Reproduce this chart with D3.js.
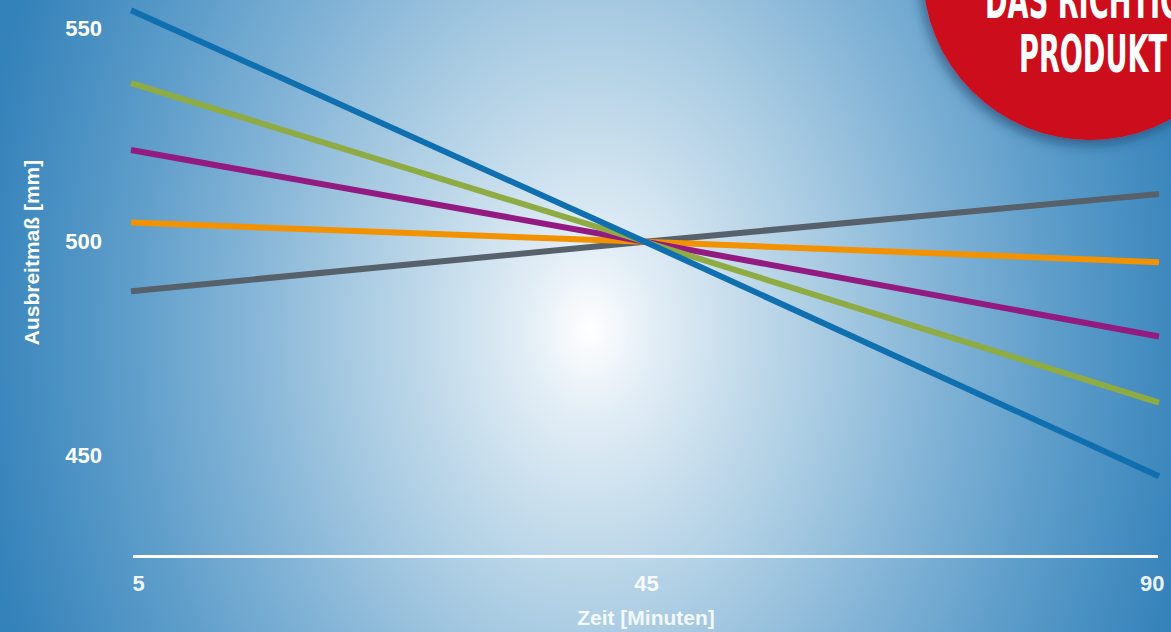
<!DOCTYPE html>
<html>
<head>
<meta charset="utf-8">
<script src="https://cdn.jsdelivr.net/npm/d3@7"></script>
<style>
  body { margin: 0; overflow: hidden; }
  svg { display: block; }
</style>
</head>
<body>
<svg id="chart"></svg>
<script>
const times = ['5', '45', '90'];
const blueValues = [554.3, 500, 445];
const greenValues = [537.2, 500, 462.3];
const purpleValues = [521.5, 500, 477.8];
const orangeValues = [504.5, 500, 495.2];
const grayValues = [488.4, 500, 511.2];
const yTicks = [450, 500, 550];

const width = 1171;
const height = 632;

const series = [
  { name: 'gray', values: grayValues, color: '#56616c' },
  { name: 'orange', values: orangeValues, color: '#f39200' },
  { name: 'purple', values: purpleValues, color: '#921a80' },
  { name: 'green', values: greenValues, color: '#8fab43' },
  { name: 'blue', values: blueValues, color: '#0f6faf' },
];

const svg = d3.select('#chart')
  .attr('width', width)
  .attr('height', height);

const defs = svg.append('defs');

// background glow, a bit taller than wide
const grad = defs.append('radialGradient')
  .attr('id', 'bg')
  .attr('gradientUnits', 'userSpaceOnUse')
  .attr('cx', 0).attr('cy', 0).attr('r', 1)
  .attr('gradientTransform', 'translate(590,330) scale(620,820)');

[
  [0, '#ffffff'],
  [0.1, '#e3eef6'],
  [0.25, '#c3dbeb'],
  [0.4, '#a5c9e1'],
  [0.55, '#85b5d7'],
  [0.75, '#5d9dca'],
  [1, '#3482ba'],
].forEach(([o, c]) => grad.append('stop').attr('offset', o).attr('stop-color', c));

const shadow = defs.append('filter')
  .attr('id', 'shadow')
  .attr('x', '-30%').attr('y', '-30%')
  .attr('width', '160%').attr('height', '160%');
shadow.append('feDropShadow')
  .attr('dx', -3).attr('dy', 5)
  .attr('stdDeviation', 6)
  .attr('flood-color', '#0b2f55')
  .attr('flood-opacity', 0.55);

svg.append('rect')
  .attr('width', width)
  .attr('height', height)
  .attr('fill', 'url(#bg)');

const xscale = d3.scalePoint()
  .domain(times)
  .range([131, 1159]);

const yscale = d3.scaleLinear()
  .domain([450, 550])
  .range([455, 28.5]);

// y tick labels
const leftAxis = d3.axisLeft(yscale)
  .tickValues(yTicks)
  .tickSize(0)
  .tickPadding(0);

svg.append('g')
  .attr('transform', 'translate(102, 0)')
  .call(leftAxis)
  .call((g) => g.select('.domain').remove())
  .selectAll('text')
  .attr('fill', '#ffffff')
  .style('font', 'bold 22px "Liberation Sans", Arial, sans-serif');

svg.append('text')
  .text('Ausbreitmaß [mm]')
  .attr('transform', 'translate(38.5, 252.5) rotate(-90)')
  .attr('text-anchor', 'middle')
  .attr('fill', '#ffffff')
  .style('font', 'bold 21px "Liberation Sans", Arial, sans-serif');

// x axis
svg.append('line')
  .attr('x1', 133)
  .attr('x2', 1158)
  .attr('y1', 556.5)
  .attr('y2', 556.5)
  .attr('stroke', '#ffffff')
  .attr('stroke-width', 3);

const bottomAxis = d3.axisBottom(xscale)
  .tickSize(0)
  .tickPadding(0);

const xg = svg.append('g')
  .attr('transform', 'translate(0, 575)')
  .call(bottomAxis)
  .call((g) => g.select('.domain').remove());

xg.selectAll('text')
  .attr('fill', '#ffffff')
  .attr('fill-opacity', 0.92)
  .attr('dy', '0.72em')
  .attr('text-anchor', (d, i) => (i === 0 ? 'start' : i === times.length - 1 ? 'end' : 'middle'))
  .attr('x', (d, i) => (i === 0 ? 1 : i === times.length - 1 ? 5 : 1))
  .style('font', 'bold 22px "Liberation Sans", Arial, sans-serif');

svg.append('text')
  .text('Zeit [Minuten]')
  .attr('x', 646)
  .attr('y', 625)
  .attr('text-anchor', 'middle')
  .attr('fill', '#ffffff')
  .attr('fill-opacity', 0.88)
  .style('font', 'bold 21px "Liberation Sans", Arial, sans-serif');

// lines
const line = d3.line()
  .x((d, i) => xscale(times[i]))
  .y((d) => yscale(d));

svg.append('g')
  .selectAll('path')
  .data(series)
  .enter()
  .append('path')
  .attr('d', (d) => line(d.values))
  .attr('fill', 'none')
  .attr('stroke', (d) => d.color)
  .attr('stroke-width', 6);

// red badge in the corner
const badge = svg.append('g');

badge.append('circle')
  .attr('cx', 1090)
  .attr('cy', -27)
  .attr('r', 167)
  .attr('fill', '#cb0a1f')
  .attr('filter', 'url(#shadow)');

badge.append('text')
  .text('DAS RICHTIGE')
  .attr('x', 1093)
  .attr('y', 18)
  .attr('text-anchor', 'middle')
  .attr('textLength', 216)
  .attr('lengthAdjust', 'spacingAndGlyphs')
  .attr('fill', '#ffffff')
  .style('font', 'bold 51px "Liberation Sans Narrow", "DejaVu Sans Condensed", sans-serif');

badge.append('text')
  .text('PRODUKT')
  .attr('x', 1093)
  .attr('y', 71.5)
  .attr('text-anchor', 'middle')
  .attr('textLength', 148)
  .attr('lengthAdjust', 'spacingAndGlyphs')
  .attr('fill', '#ffffff')
  .style('font', 'bold 51px "Liberation Sans Narrow", "DejaVu Sans Condensed", sans-serif');
</script>
</body>
</html>
